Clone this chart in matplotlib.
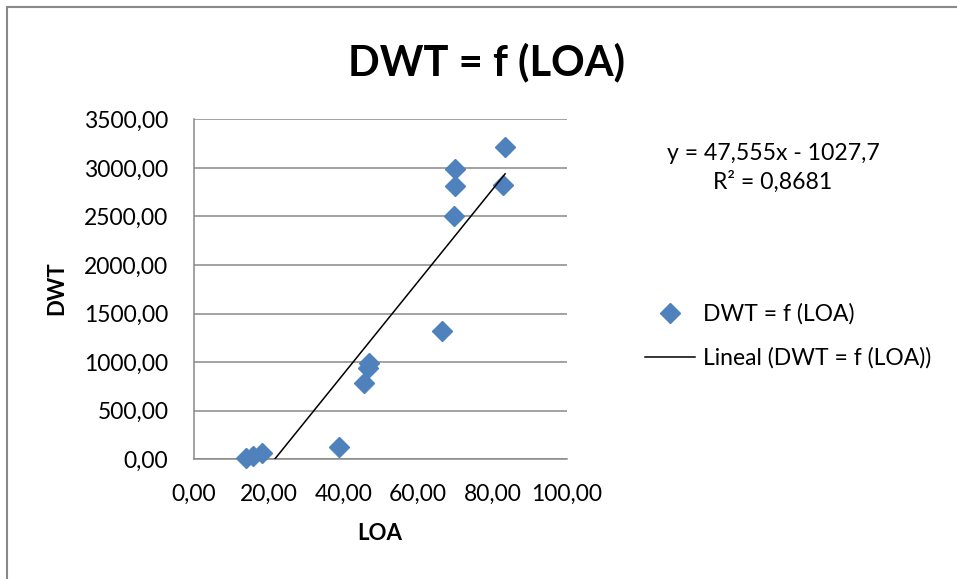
import matplotlib
matplotlib.use("Agg")
import matplotlib.pyplot as plt
from matplotlib.ticker import FuncFormatter
from matplotlib.patches import Rectangle
import numpy as np

plt.rcParams['font.family'] = ['Lato', 'DejaVu Sans']

# Ship length overall (m) vs deadweight (t)
loa = [13.9, 15.8, 18.2, 39.0, 45.7, 46.6, 46.9, 66.6, 69.8, 70.0, 70.0, 82.9, 83.4]
dwt = [15, 35, 60, 123, 790, 945, 990, 1317, 2505, 2813, 2988, 2824, 3212]

# Linear trend as reported
slope = 47.555
intercept = -1027.7
r2_text = "0,8681"

x_ticks = [0, 20, 40, 60, 80, 100]
y_ticks = [0, 500, 1000, 1500, 2000, 2500, 3000, 3500]

blue = '#4F81BD'
grey = '#898989'

W, H = 957, 579
fig = plt.figure(figsize=(W / 100, H / 100), dpi=100)
fig.patch.set_facecolor('white')

# chart area frame
fig.patches.append(Rectangle((7 / W, -0.2), 1.3, 1.2 - 7 / H,
                             transform=fig.transFigure, fill=False,
                             edgecolor=grey, linewidth=1.5))

def px(x0, y0, x1, y1):
    return [x0 / W, 1 - y1 / H, (x1 - x0) / W, (y1 - y0) / H]

ax = fig.add_axes(px(194, 119.3, 567, 459.3))
ax.set_xlim(0, 100)
ax.set_ylim(0, 3500)

ax.set_xticks(x_ticks)
ax.set_yticks(y_ticks)
fmt = FuncFormatter(lambda v, p: f"{v:.2f}".replace('.', ','))
ax.xaxis.set_major_formatter(fmt)
ax.yaxis.set_major_formatter(fmt)
ax.tick_params(axis='both', length=0, labelsize=16.5, colors='black')
ax.tick_params(axis='y', pad=18.5)
ax.tick_params(axis='x', pad=17.5)

ax.grid(axis='y', color=grey, linewidth=1.1)
ax.set_axisbelow(True)
for s in ['top', 'right']:
    ax.spines[s].set_visible(False)
for s in ['left', 'bottom']:
    ax.spines[s].set_color(grey)
    ax.spines[s].set_linewidth(1.1)

sc, = ax.plot(loa, dwt, linestyle='none', marker='D', markersize=10,
              color=blue, markeredgecolor=blue, clip_on=False, zorder=3,
              label='DWT = f (LOA)')

xl = np.array([min(loa), max(loa)])
tl, = ax.plot(xl, slope * xl + intercept, color='black', linewidth=1.1,
              zorder=4, label='Lineal (DWT = f (LOA))')

fig.text(487 / W, 1 - 75 / H, 'DWT = f (LOA)', ha='center', va='baseline',
         fontsize=30, fontweight='bold')

ax.set_xlabel('LOA', fontsize=16, fontweight='bold')
ax.xaxis.set_label_coords((380 - 194) / 373, (459.3 - 533) / 340)
ax.xaxis.label.set_va('center')
ax.set_ylabel('DWT', fontsize=16, fontweight='bold')
ax.yaxis.set_label_coords((57 - 194) / 373, (459.3 - 288) / 340)
ax.yaxis.label.set_va('center')

eq = f"y = {slope:.3f}x - {abs(intercept):.1f}".replace('.', ',')
fig.text(773 / W, 1 - 153 / H, eq, ha='center', va='center', fontsize=16.6)
fig.text(773 / W, 1 - 182 / H, "R² = " + r2_text, ha='center', va='center',
         fontsize=16.6)

fig.legend(handles=[sc, tl], loc='center left',
           bbox_to_anchor=(645 / W, 1 - 336 / H), frameon=False,
           fontsize=16.5, handlelength=2.18, handletextpad=0.35,
           labelspacing=1.0, borderaxespad=0, borderpad=0)

fig.savefig('out.png', dpi=100)
